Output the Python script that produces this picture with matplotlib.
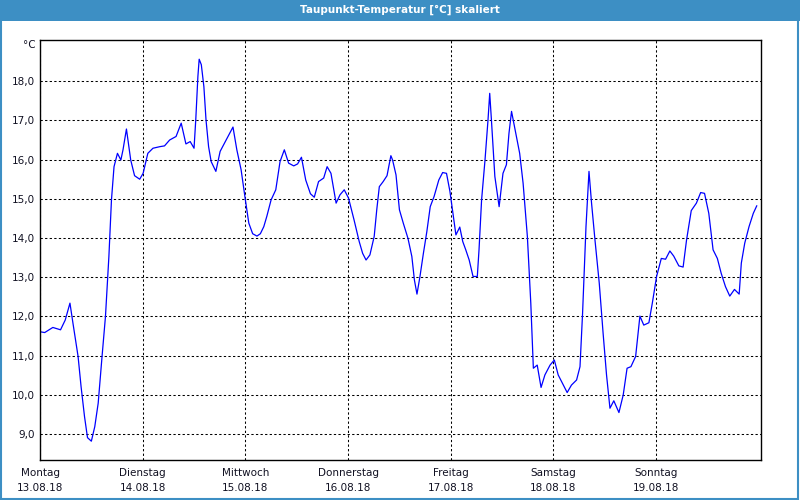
import matplotlib
matplotlib.use('Agg')
import matplotlib.pyplot as plt
from matplotlib.patches import Rectangle

# Stunden seit Montag 00:00 und Taupunkt in °C
hours = [0, 1.1, 3.0, 4.8, 5.9, 7.0, 7.7, 8.9, 9.6, 10.4, 11.1, 12.0, 12.8, 13.6,
         14.5, 15.3, 16.1, 16.7, 17.3, 18.1, 18.9, 19.4, 20.2, 21.2, 22.1, 23.3,
         24.1, 25.2, 26.4, 28.0, 29.1, 30.3, 31.8, 33.0, 34.1, 35.1, 36.0, 36.4,
         36.9, 37.2, 37.7, 38.3, 38.8, 39.4, 40.0, 41.1, 42.1, 43.3, 45.1, 46.0,
         47.0, 48.0, 48.8, 49.7, 50.7, 51.5, 52.3, 53.0, 54.0, 55.1, 56.1, 57.1,
         58.1, 59.3, 60.2, 61.1, 62.1, 63.2, 64.1, 65.1, 66.3, 67.1, 68.0, 69.2,
         70.1, 71.1, 72.1, 73.4, 74.6, 75.4, 76.2, 77.1, 78.1, 78.7, 79.3, 80.2,
         81.1, 82.0, 82.4, 83.2, 84.0, 84.9, 86.0, 86.9, 87.5, 88.1, 88.8, 89.6,
         90.4, 91.2, 92.1, 93.2, 94.1, 95.0, 95.8, 96.4, 97.2, 98.1, 98.8, 99.5,
         100.3, 101.2, 102.2, 102.6, 103.2, 104.0, 104.7, 105.1, 105.5, 106.3,
         107.3, 108.2, 109.0, 109.6, 110.2, 111.2, 112.1, 112.9, 113.9, 114.7,
         115.3, 116.2, 117.1, 118.0, 119.2, 120.2, 121.1, 122.3, 123.2, 124.2,
         125.4, 126.2, 126.8, 127.6, 128.3, 128.9, 129.7, 130.7, 131.6, 132.4,
         133.2, 134.1, 135.3, 136.3, 137.2, 138.1, 139.2, 140.2, 141.1, 142.3,
         143.1, 144.1, 145.2, 146.2, 147.2, 148.1, 149.3, 150.3, 151.1, 152.2,
         153.4, 154.4, 155.3, 156.3, 157.3, 158.3, 159.2, 160.2, 161.2, 162.3,
         163.4, 163.9, 164.7, 165.7, 166.7, 167.5]
dewpoint = [11.61, 11.59, 11.72, 11.66, 11.91, 12.34, 11.83, 10.98, 10.21, 9.45,
            8.91, 8.82, 9.19, 9.79, 10.98, 12.0, 13.53, 14.97, 15.82, 16.16,
            15.99, 16.25, 16.78, 15.99, 15.59, 15.5, 15.65, 16.16, 16.29, 16.33,
            16.35, 16.5, 16.59, 16.93, 16.40, 16.46, 16.29, 17.01, 18.12, 18.56,
            18.42, 17.86, 17.01, 16.33, 15.95, 15.70, 16.21, 16.46, 16.83, 16.25,
            15.74, 14.97, 14.38, 14.11, 14.05, 14.11, 14.29, 14.55, 14.97, 15.23,
            15.95, 16.25, 15.91, 15.84, 15.89, 16.06, 15.48, 15.13, 15.04, 15.44,
            15.53, 15.82, 15.65, 14.89, 15.10, 15.23, 15.02, 14.46, 13.91, 13.61,
            13.44, 13.57, 14.04, 14.72, 15.31, 15.44, 15.59, 16.10, 15.99, 15.61,
            14.72, 14.38, 13.99, 13.53, 12.93, 12.57, 13.02, 13.61, 14.16, 14.80,
            15.06, 15.48, 15.67, 15.65, 15.19, 14.72, 14.08, 14.28, 13.91, 13.70,
            13.44, 13.02, 13.02, 13.70, 14.97, 15.99, 17.01, 17.69, 17.01, 15.57,
            14.80, 15.65, 15.87, 16.67, 17.23, 16.67, 16.16, 15.40, 14.04, 12.34,
            10.68, 10.76, 10.19, 10.51, 10.76, 10.89, 10.51, 10.25, 10.06, 10.25,
            10.38, 10.72, 12.08, 14.29, 15.70, 14.89, 13.95, 12.85, 11.57, 10.51,
            9.66, 9.85, 9.55, 10.0, 10.68, 10.72, 10.98, 12.01, 11.78, 11.84,
            12.34, 13.02, 13.48, 13.46, 13.67, 13.54, 13.29, 13.26, 13.95, 14.70,
            14.89, 15.16, 15.14, 14.63, 13.70, 13.48, 13.10, 12.76, 12.52, 12.69,
            12.57, 13.36, 13.87, 14.29, 14.63, 14.82]

days = ['Montag', 'Dienstag', 'Mittwoch', 'Donnerstag', 'Freitag', 'Samstag', 'Sonntag']
dates = ['13.08.18', '14.08.18', '15.08.18', '16.08.18', '17.08.18', '18.08.18', '19.08.18']
yticks = [9, 10, 11, 12, 13, 14, 15, 16, 17, 18]

border_blue = '#3d8fc4'

fig = plt.figure(figsize=(8, 5), dpi=100)
fig.patch.set_facecolor('white')

# Titelleiste und Rahmen
fig.patches.append(Rectangle((0, 0.959), 1, 0.041, transform=fig.transFigure,
                             facecolor=border_blue, edgecolor='none', zorder=0))
fig.patches.append(Rectangle((0.001, 0.002), 0.997, 0.996, transform=fig.transFigure,
                             facecolor='none', edgecolor=border_blue, linewidth=1.5, zorder=0))
fig.text(0.5, 0.980, 'Taupunkt-Temperatur [°C] skaliert', color='white',
         ha='center', va='center', fontsize=7.5, fontweight='bold')

ax = fig.add_axes([0.05, 0.08, 0.90125, 0.84])
ax.plot(hours, dewpoint, color='#0000ff', linewidth=0.9)

ax.set_xlim(0, 168.5)
ax.set_ylim(8.34, 19.05)

ax.set_yticks(yticks)
ax.set_yticklabels([('%.1f' % v).replace('.', ',') for v in yticks])
ax.set_xticks([24 * i for i in range(7)])
ax.set_xticklabels([d + '\n' + t for d, t in zip(days, dates)], linespacing=1.6)

ax.tick_params(axis='both', length=0, labelsize=7.5, colors='#111122')
ax.tick_params(axis='x', pad=6)
ax.tick_params(axis='y', pad=4)

ax.grid(True, color='black', linestyle=(0, (2.2, 2.2)), linewidth=0.75)
for s in ax.spines.values():
    s.set_color('black')
    s.set_linewidth(1.0)

fig.text(0.044, 0.91, '°C', ha='right', va='center', fontsize=7.5, color='#111122')

fig.savefig('out.png', dpi=100)
